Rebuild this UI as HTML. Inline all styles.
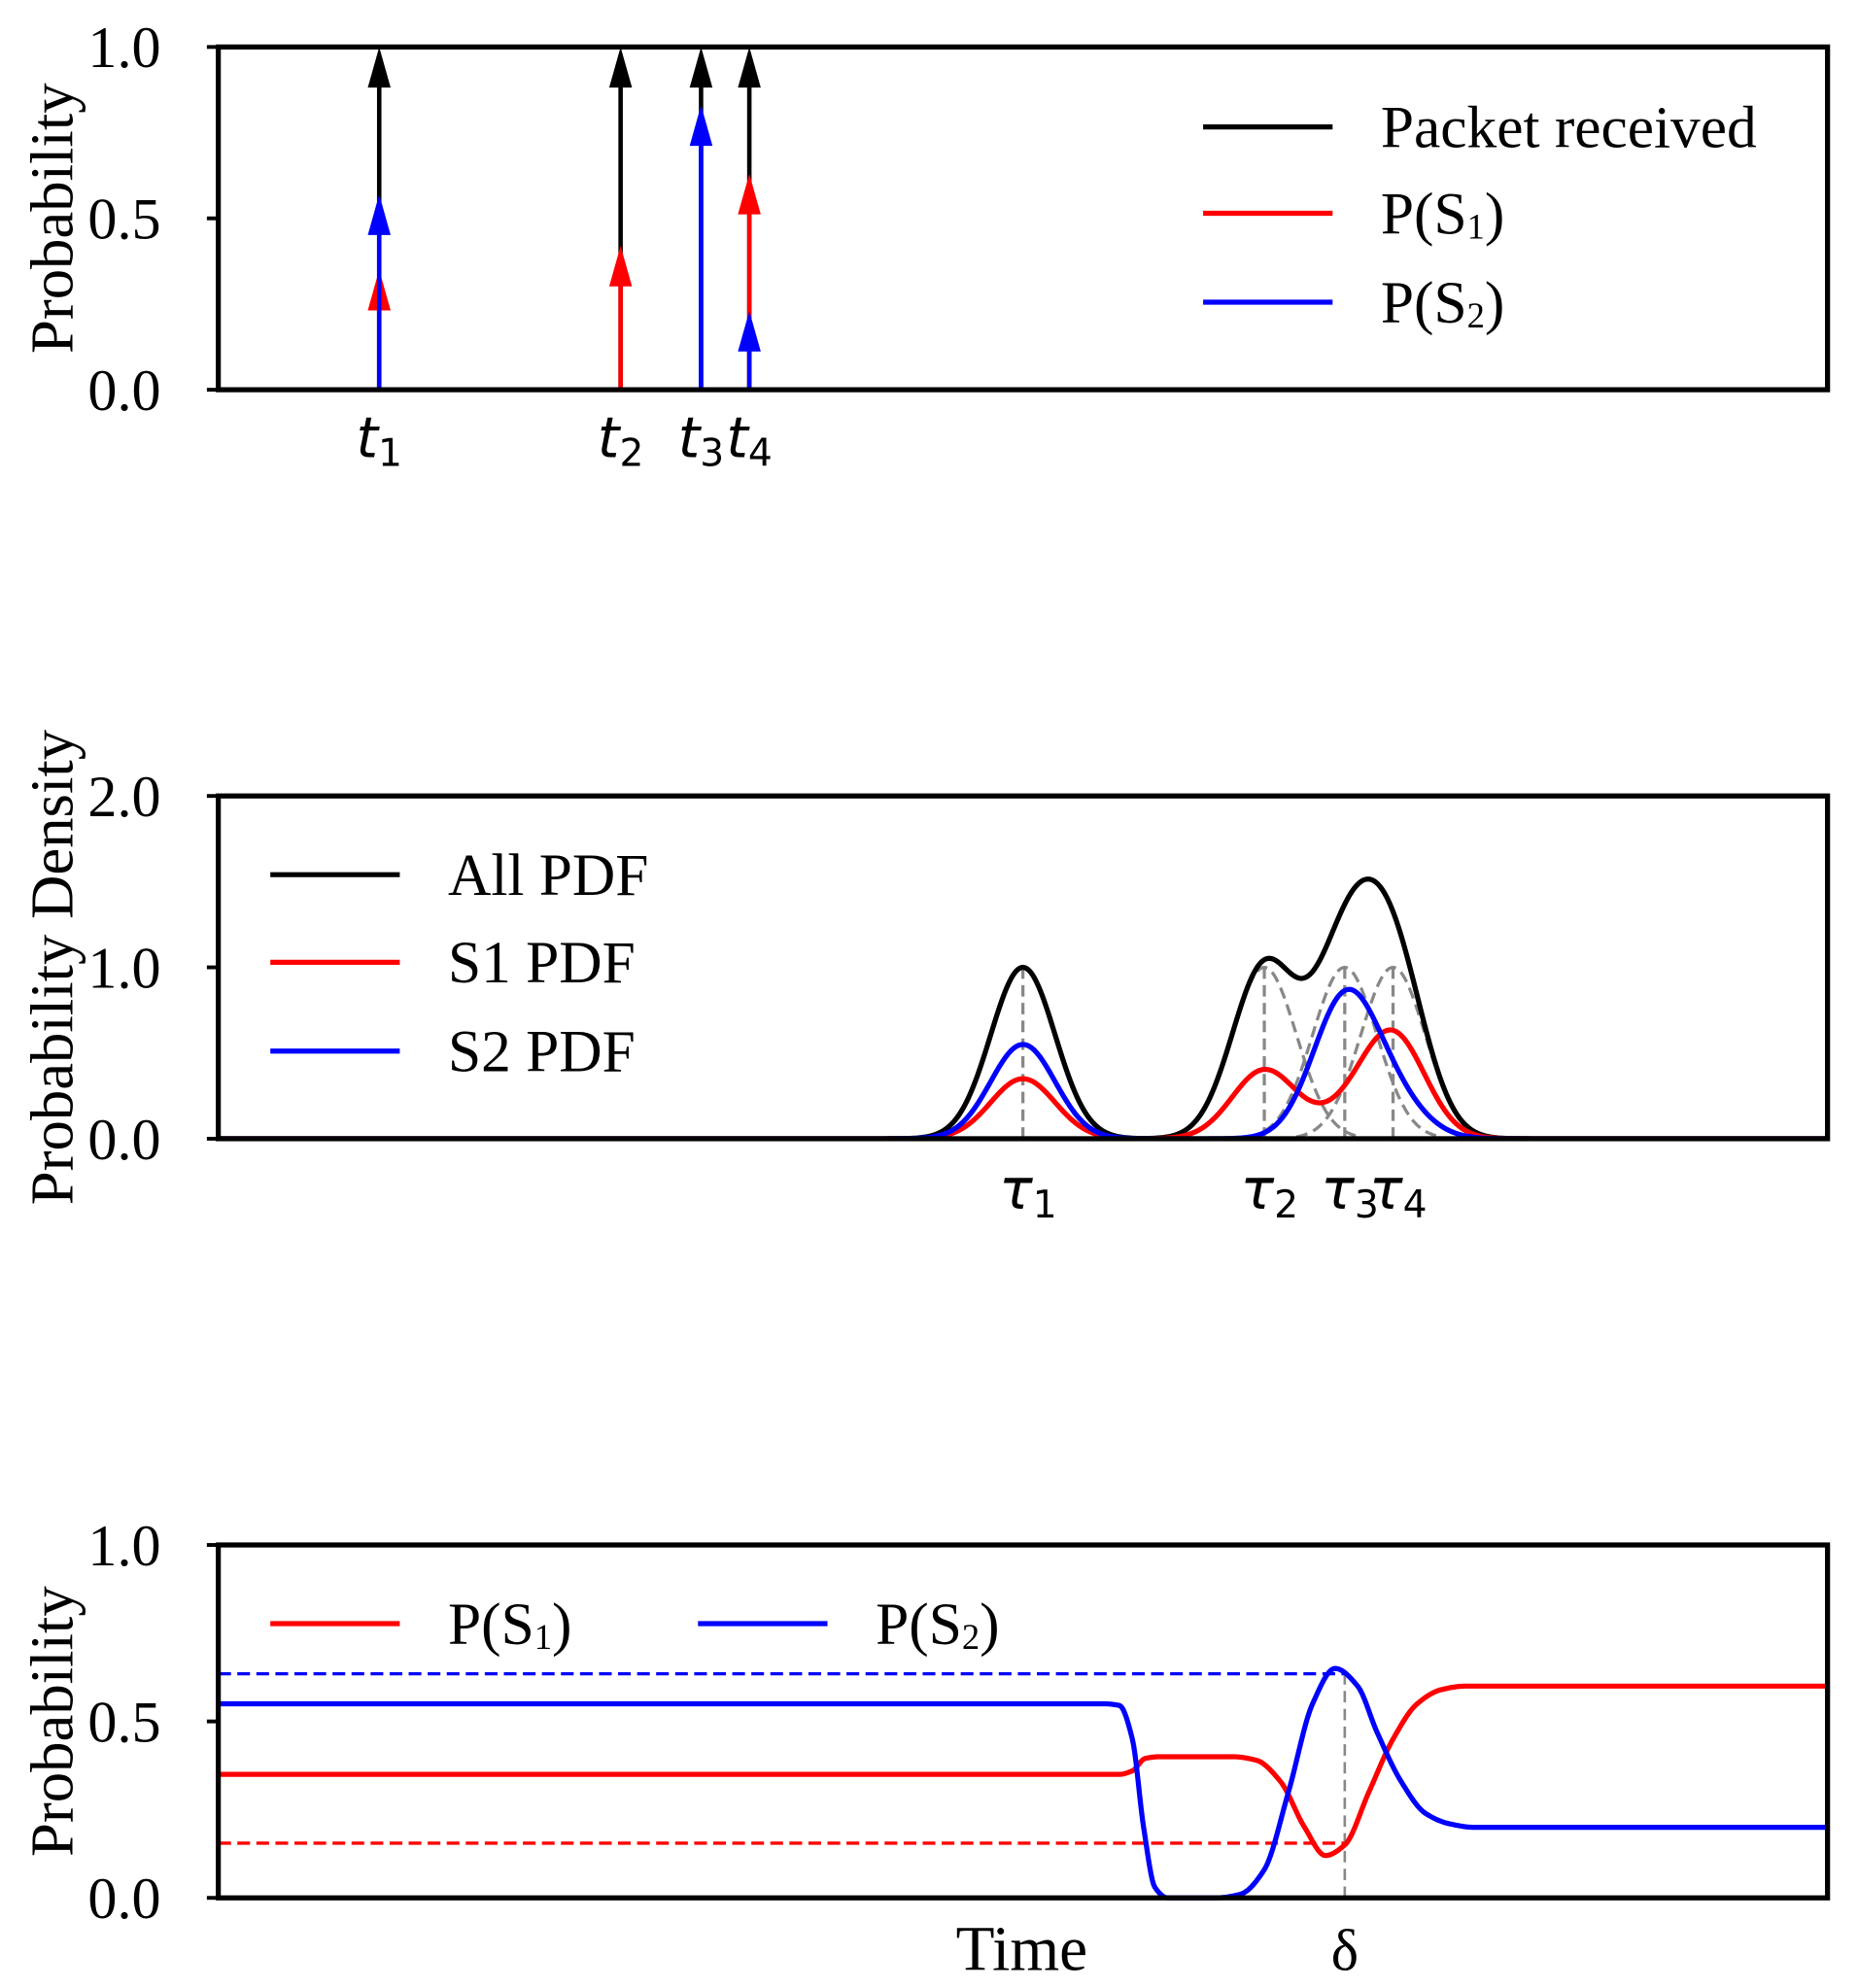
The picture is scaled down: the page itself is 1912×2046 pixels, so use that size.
<!DOCTYPE html>
<html><head><meta charset="utf-8"><style>
html,body{margin:0;padding:0;background:#fff}
svg{display:block}
.serif{font-family:"Liberation Serif",serif}
.sans{font-family:"DejaVu Sans",sans-serif}
</style></head><body>
<svg id="fig" width="1912" height="2046" viewBox="0 0 1464 1566" preserveAspectRatio="none"></svg>
<script>
// ---- data ----
const packetTimes = [1.0, 2.5, 3.0, 3.3];
const packetLabels = ['1','2','3','4'];
const arrowS1 = [0.35, 0.42, 0.0, 0.63];
const arrowS2 = [0.57, 0.0, 0.83, 0.23];
const pdfTimes = [5.0, 6.5, 7.0, 7.3];
const pdfS1 = [0.35, 0.4, 0.1, 0.6];
const pdfS2 = [0.55, 0.0, 0.8, 0.2];
const pdfSigma = 0.2;
const blueT = [0,5.5,5.6,5.68,5.75,5.82,5.9,6.2,6.35,6.5,6.65,6.8,6.94,7.08,7.2,7.35,7.5,7.65,7.8,10];
const blueV = [0.55,0.55,0.545,0.45,0.2,0.03,0,0,0.01,0.08,0.3,0.55,0.65,0.6,0.47,0.33,0.24,0.21,0.2,0.2];
const redT = [0,5.6,5.68,5.76,5.85,6.3,6.45,6.6,6.75,6.88,7.0,7.15,7.3,7.45,7.6,7.75,7.9,10];
const redV = [0.35,0.35,0.36,0.395,0.4,0.4,0.39,0.33,0.2,0.12,0.15,0.3,0.45,0.55,0.59,0.6,0.6,0.6];
const blueRef = 0.635, redRef = 0.155, deltaT = 7.0;

const NS='http://www.w3.org/2000/svg';
const svg=document.getElementById('fig');
const X0=172,X1=1440;
const sx=t=>X0+(t/10)*(X1-X0);
function mk(tag,attrs,parent){const e=document.createElementNS(NS,tag);for(const k in attrs)e.setAttribute(k,attrs[k]);(parent||svg).appendChild(e);return e;}
function txt(s,x,y,size,cls,anchor,parent){const e=mk('text',{x:x,y:y,'font-size':size,class:cls,'text-anchor':anchor||'start'},parent);e.innerHTML=s;return e;}

function panel(name,top,bot,ymax,ticks,ylabel){
  const g=mk('g',{});
  
  
  const sy=v=>bot-(v/ymax)*(bot-top);
  ticks.forEach(v=>{
    const t=mk('line',{x1:X0-9,x2:X0,y1:sy(v),y2:sy(v),stroke:'#000','stroke-width':3},g);
    
    const l=txt(v.toFixed(1),X0-74,sy(v)+16,46,'serif','middle',g);
    
  });
  const yl=txt(ylabel,0,0,48,'serif','middle',g);
  yl.setAttribute('transform',`translate(57,${(top+bot)/2}) rotate(-90)`);
  
  return {g,sy,top,bot};
}
function frame(p){const r=mk('rect',{x:X0,y:p.top,width:X1-X0,height:p.bot-p.top,fill:'none',stroke:'#000','stroke-width':4},p.g);}
function arrow(g,x,y0,y1,color,name){
  const head=32,hw=9;
  const l=mk('line',{x1:x,x2:x,y1:y0,y2:y1+head*0.6,stroke:color,'stroke-width':3.5},g);
  
  const h=mk('polygon',{points:`${x},${y1} ${x-hw},${y1+head} ${x+hw},${y1+head}`,fill:color},g);
  
}
function legendEntry(g,x,y,color,label){
  const l=mk('line',{x1:x,x2:x+102,y1:y,y2:y,stroke:color,'stroke-width':4},g);
  
  const t=txt(label,x+140,y+16,47,'serif','start',g);
  
}
const sub1='P(S<tspan font-size="28" dy="4">1</tspan><tspan dy="-4">)</tspan>';
const sub2='P(S<tspan font-size="28" dy="4">2</tspan><tspan dy="-4">)</tspan>';

// ---- panel 1 ----
const p1=panel('packet-panel',37,307,1,[0,0.5,1],'Probability');
packetTimes.forEach((t,i)=>{
  const x=sx(t);
  arrow(p1.g,x,p1.sy(0),p1.sy(1),'#000','arrow-received');
  if(arrowS1[i]>0) arrow(p1.g,x,p1.sy(0),p1.sy(arrowS1[i]),'#ff0000','arrow-s1');
  if(arrowS2[i]>0) arrow(p1.g,x,p1.sy(0),p1.sy(arrowS2[i]),'#0000ff','arrow-s2');
  const lab=txt(`<tspan font-style="italic">t</tspan><tspan font-size="30" dy="7">${packetLabels[i]}</tspan>`,x,360,44,'sans','middle',p1.g);
  
});
frame(p1);
legendEntry(p1.g,948,100,'#000','Packet received');
legendEntry(p1.g,948,168,'#ff0000',sub1);
legendEntry(p1.g,948,238,'#0000ff',sub2);

// ---- panel 2 ----
const p2=panel('pdf-panel',627,897,2,[0,1,2],'Probability Density');
const gauss=(t,m)=>Math.exp(-((t-m)**2)/(2*pdfSigma*pdfSigma));
function curve(fn){let d='';for(let i=0;i<=1000;i++){const t=i/100;d+=(i?'L':'M')+sx(t).toFixed(2)+','+p2.sy(fn(t)).toFixed(2);}return d;}
pdfTimes.forEach(m=>{
  const g=mk('path',{d:(()=>{let d='';for(let i=0;i<=120;i++){const t=m-0.6+i*0.01;d+=(i?'L':'M')+sx(t).toFixed(2)+','+p2.sy(gauss(t,m)).toFixed(2);}return d;})(),fill:'none',stroke:'#888','stroke-width':2.5,'stroke-dasharray':'9,5'},p2.g);
  
  const v=mk('line',{x1:sx(m),x2:sx(m),y1:p2.sy(0),y2:p2.sy(1),stroke:'#888','stroke-width':2.5,'stroke-dasharray':'9,5'},p2.g);
  
});
const allPdf=t=>pdfTimes.reduce((s,m)=>s+gauss(t,m),0);
const s1Pdf=t=>pdfTimes.reduce((s,m,i)=>s+pdfS1[i]*gauss(t,m),0);
const s2Pdf=t=>pdfTimes.reduce((s,m,i)=>s+pdfS2[i]*gauss(t,m),0);
let c=mk('path',{d:curve(allPdf),fill:'none',stroke:'#000','stroke-width':4},p2.g);
c=mk('path',{d:curve(s1Pdf),fill:'none',stroke:'#ff0000','stroke-width':4},p2.g);
c=mk('path',{d:curve(s2Pdf),fill:'none',stroke:'#0000ff','stroke-width':4},p2.g);
pdfTimes.forEach((m,i)=>{
  const lab=txt(`<tspan font-style="italic">τ</tspan><tspan font-size="30" dy="7">${packetLabels[i]}</tspan>`,sx(m)+4,952,44,'sans','middle',p2.g);
  
});
frame(p2);
legendEntry(p2.g,213,689,'#000','All PDF');
legendEntry(p2.g,213,758,'#ff0000','S1 PDF');
legendEntry(p2.g,213,828,'#0000ff','S2 PDF');

// ---- panel 3 ----
const p3=panel('posterior-panel',1217,1495,1,[0,0.5,1],'Probability');
// monotone cubic (Fritsch-Carlson) in t, sampled densely
function monotone(T,V){
  const n=T.length,h=[],dl=[],m=new Array(n);
  for(let i=0;i<n-1;i++){h[i]=T[i+1]-T[i];dl[i]=(V[i+1]-V[i])/h[i];}
  m[0]=dl[0];m[n-1]=dl[n-2];
  for(let i=1;i<n-1;i++){m[i]=(dl[i-1]*dl[i]<=0)?0:3*(h[i-1]+h[i])/((2*h[i]+h[i-1])/dl[i-1]+(h[i]+2*h[i-1])/dl[i]);}
  let d='';
  for(let i=0;i<n-1;i++){
    const N=Math.max(4,Math.ceil(h[i]*120));
    for(let k=(i?1:0);k<=N;k++){
      const s=k/N,t=T[i]+s*h[i];
      const h00=2*s*s*s-3*s*s+1,h10=s*s*s-2*s*s+s,h01=-2*s*s*s+3*s*s,h11=s*s*s-s*s;
      const v=h00*V[i]+h10*h[i]*m[i]+h01*V[i+1]+h11*h[i]*m[i+1];
      d+=(d?'L':'M')+sx(t).toFixed(2)+','+p3.sy(v).toFixed(2);
    }
  }
  return d;
}
c=mk('line',{x1:X0,x2:sx(deltaT),y1:p3.sy(blueRef),y2:p3.sy(blueRef),stroke:'#0000ff','stroke-width':2.5,'stroke-dasharray':'10,5'},p3.g);
c=mk('line',{x1:X0,x2:sx(deltaT),y1:p3.sy(redRef),y2:p3.sy(redRef),stroke:'#ff0000','stroke-width':2.5,'stroke-dasharray':'10,5'},p3.g);
c=mk('line',{x1:sx(deltaT),x2:sx(deltaT),y1:p3.sy(0),y2:p3.sy(blueRef),stroke:'#888','stroke-width':2,'stroke-dasharray':'9,5'},p3.g);
c=mk('path',{d:monotone(redT,redV),fill:'none',stroke:'#ff0000','stroke-width':4},p3.g);
c=mk('path',{d:monotone(blueT,blueV),fill:'none',stroke:'#0000ff','stroke-width':4},p3.g);
frame(p3);
legendEntry(p3.g,213,1279,'#ff0000',sub1);
legendEntry(p3.g,550,1279,'#0000ff',sub2);
c=txt('Time',805,1552,50,'serif','middle',p3.g);
c=txt('δ',sx(deltaT),1552,46,'serif','middle',p3.g);
</script>
</body></html>
